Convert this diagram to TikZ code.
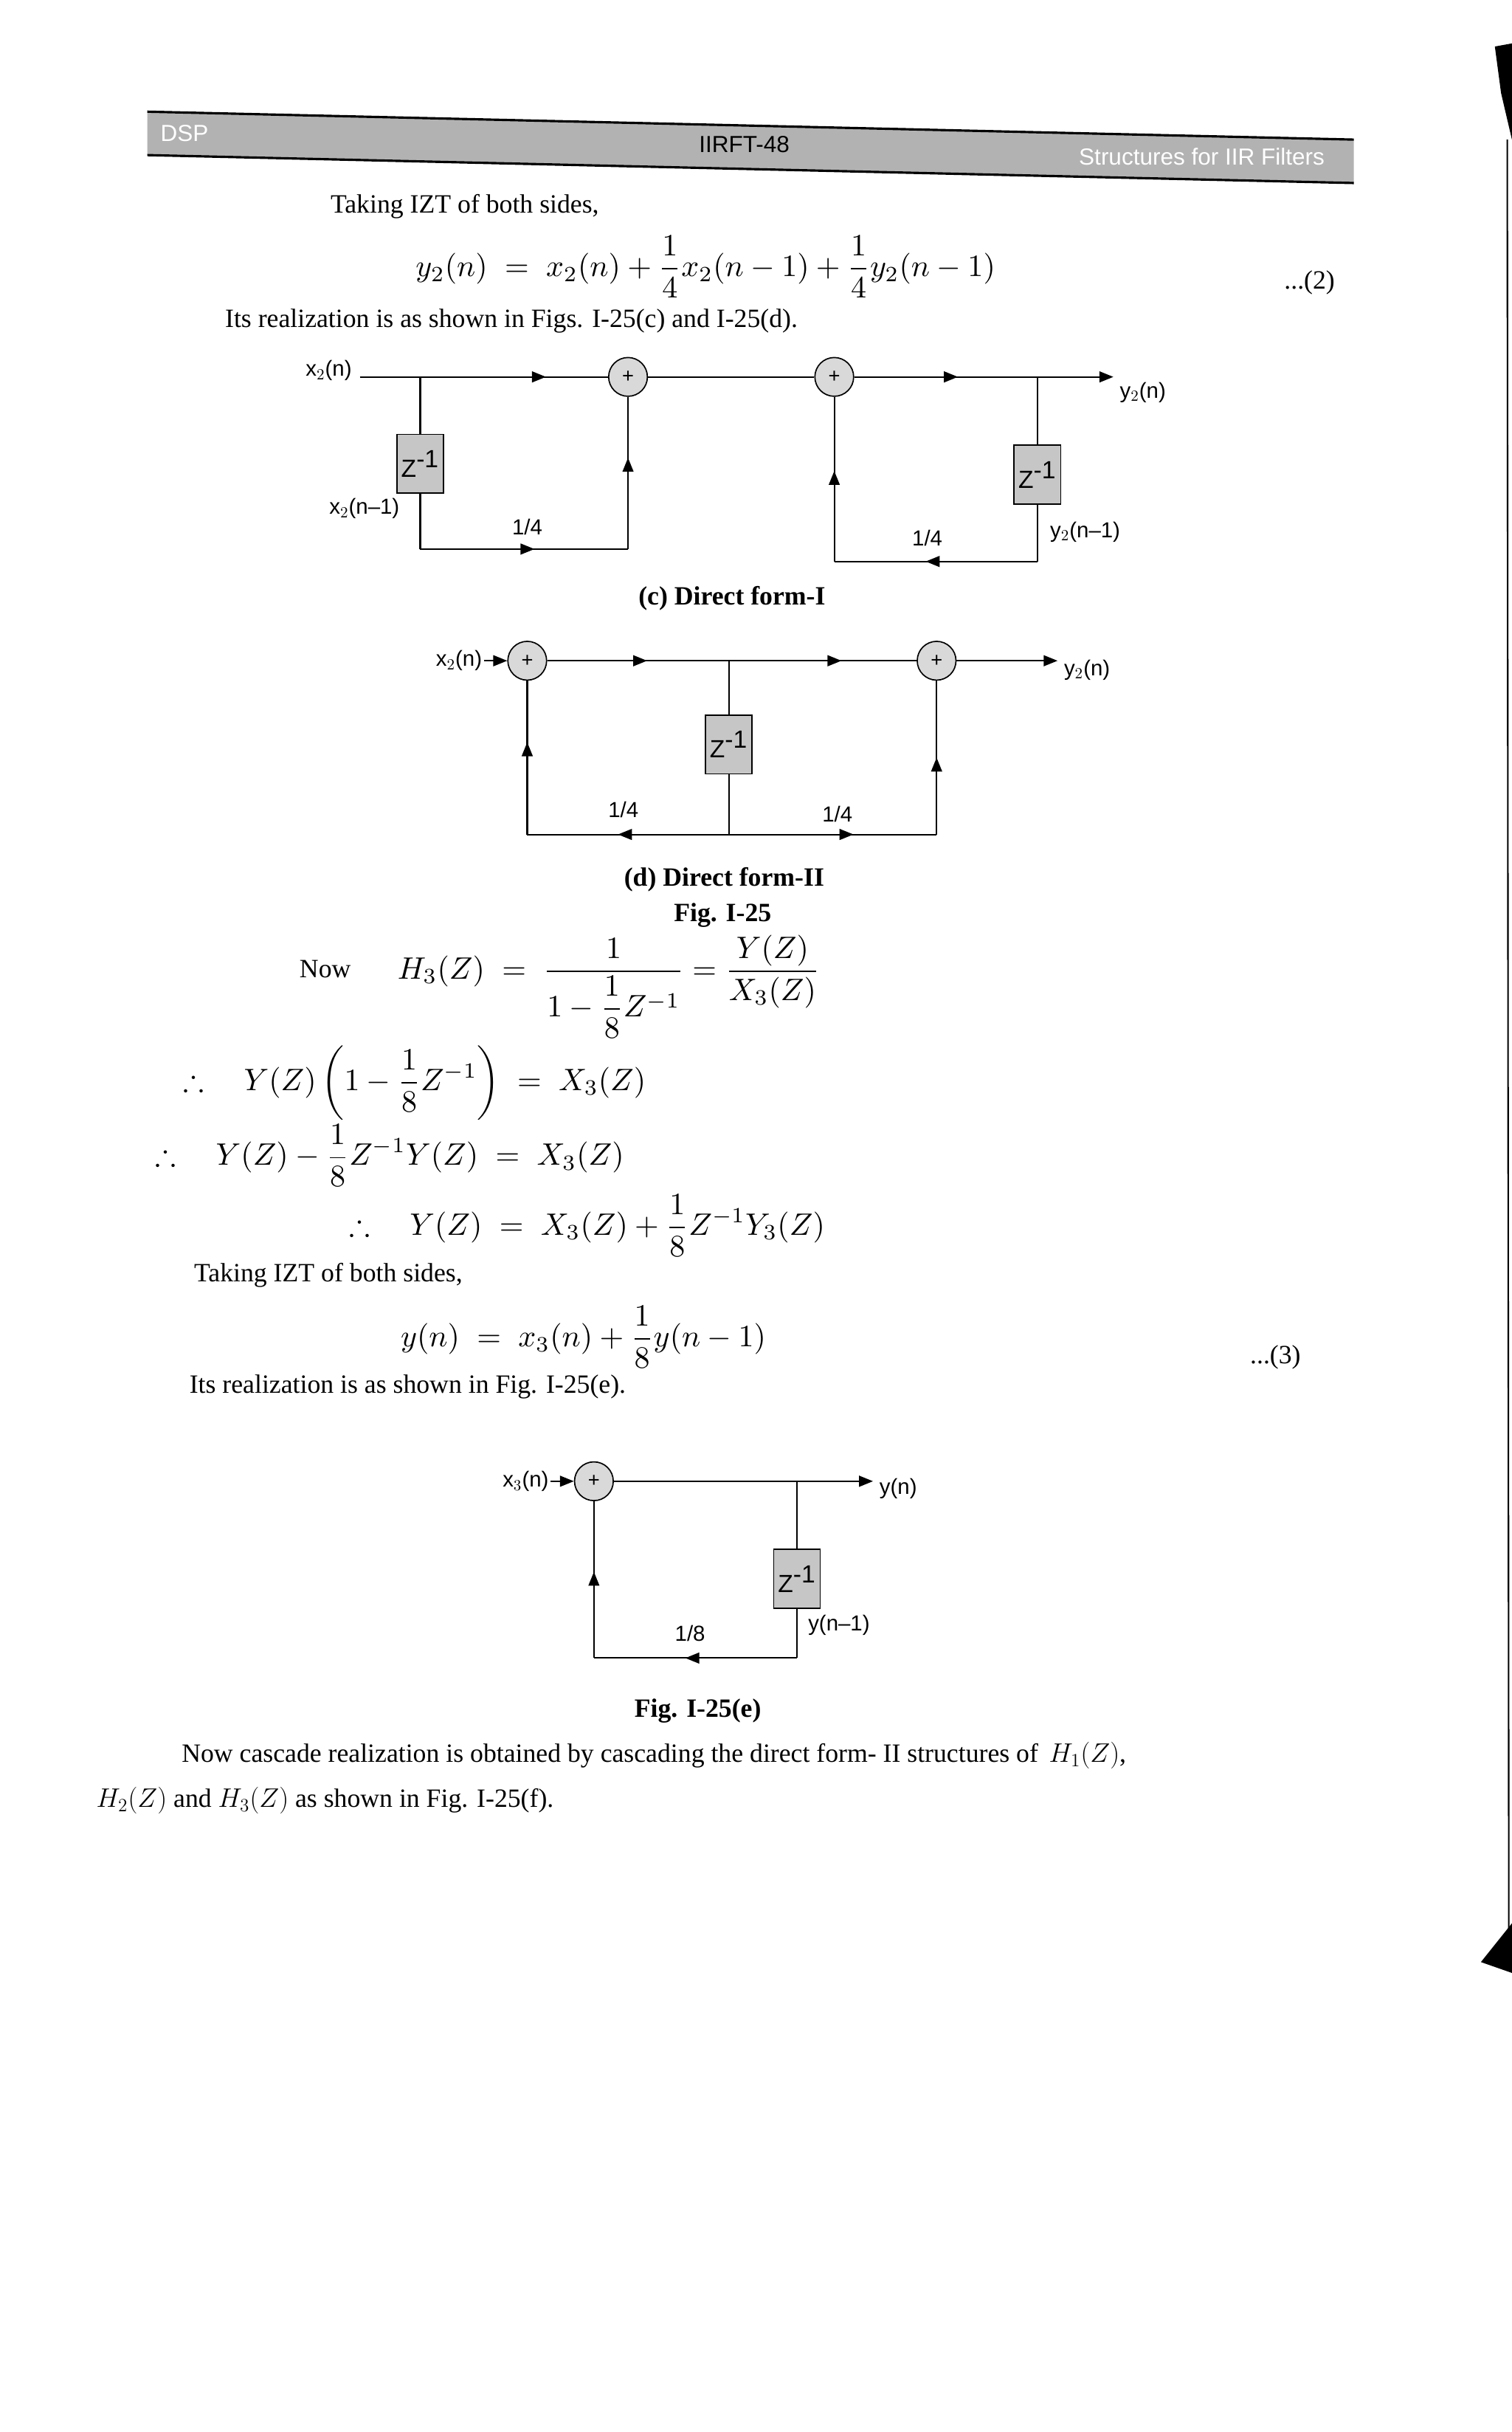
\documentclass[tikz,border=0pt]{standalone}
\usepackage{amssymb}
\usepackage{fontspec}
\setmainfont{Liberation Serif}
\newfontfamily\lsans{Liberation Sans}
\usetikzlibrary{decorations.markings,arrows.meta}
\begin{document}
\begin{tikzpicture}[x=1pt,y=-1pt,
  lab/.style={font=\lsans\fontsize{14}{16}\selectfont,inner sep=1pt},
  txt/.style={font=\fontsize{17}{20}\selectfont,anchor=west,inner sep=0pt},
  eqn/.style={font=\normalsize,anchor=west,inner sep=0pt,scale=2.0,transform shape},
  captxt/.style={font=\bfseries\fontsize{17}{20}\selectfont,inner sep=0pt},
  adder/.style={circle,draw,thick,fill=gray!30,minimum size=25pt,inner sep=0pt,font=\lsans\fontsize{13}{14}\selectfont},
  zbox/.style={draw,thick,fill=gray!45,minimum width=30pt,minimum height=38pt,inner sep=0pt,font=\lsans\fontsize{16}{18}\selectfont},
  wire/.style={line width=1pt},
  marr/.style={postaction={decorate},decoration={markings,mark=at position #1 with {\arrow{Triangle[length=9pt,width=7pt]}}}},
  tip/.style={-{Triangle[length=9pt,width=7pt]}}]
\useasboundingbox (0,0) rectangle (975,1568);
% header band
\fill[gray!60] (95,72) -- (873,90) -- (873,118) -- (95,100) -- cycle;
\draw[line width=1.5pt] (95,72) -- (873,90);
\draw[line width=1.5pt] (95,100) -- (873,118);
\node[font=\lsans\fontsize{15}{17}\selectfont] (hd) at (480,93) {IIRFT-48};
\node[font=\lsans\fontsize{15}{17}\selectfont,text=white,anchor=west] (hl) at (100,86) {DSP};
\node[font=\lsans\fontsize{15}{17}\selectfont,text=white] (hr) at (775,101) {Structures for IIR Filters};
\fill[black] (964,30) -- (975,28) -- (975,90) -- (968,60) -- cycle;
\draw[black,line width=1pt] (972,90) -- (973,1250);
\fill[black] (955,1265) -- (975,1240) -- (975,1272) -- cycle;
% text top
\node[txt] (t1) at (213,133) {Taking IZT of both sides,};
\node[eqn,anchor=center] (e2) at (455,172) {$\displaystyle y_2(n)\;=\;x_2(n)+\frac14x_2(n-1)+\frac14y_2(n-1)$};
\node[txt] (n2) at (828,182) {...(2)};
\node[txt] (t2) at (145,207) {Its realization is as shown in Figs. I-25(c) and I-25(d).};
% Fig c
\node[lab,anchor=east] (cx) at (228,239) {x$_2$(n)};
\node[adder] (ca1) at (405,243) {+};
\node[adder] (ca2) at (538,243) {+};
\coordinate (cy) at (718,252);
\node[lab,anchor=west] (cyl) at (721,253) {y$_2$(n)};
\coordinate (cin) at (232,243);
\coordinate (cb1) at (271,243);
\node[zbox] (cz1) at (271,299) {Z$^{\mbox{-1}}$};
\coordinate (cl1) at (271,354);
\coordinate (cl2) at (405,354);
\draw[wire,marr=0.75] (cin) -- (ca1);
\draw[wire] (ca1) -- (ca2);
\draw[wire,marr=0.4,tip] (ca2) -- (cy |- ca2) coordinate (cye);
\draw[wire] (cb1) -- (cz1) -- (cl1);
\draw[wire,marr=0.55] (cl1) -- (cl2);
\draw[wire,marr=0.6] (cl2) -- (ca1);
\coordinate (cb2) at (669,243);
\node[zbox] (cz2) at (669,306) {Z$^{\mbox{-1}}$};
\coordinate (cr1) at (669,362);
\coordinate (cr2) at (538,362);
\draw[wire] (cb2) -- (cz2) -- (cr1);
\draw[wire,marr=0.55] (cr1) -- (cr2);
\draw[wire,marr=0.55] (cr2) -- (ca2);
\node[lab] (c14a) at (340,340) {1/4};
\node[lab] (c14b) at (598,347) {1/4};
\node[lab] (cxn) at (235,328) {x$_2$(n–1)};
\node[lab,anchor=west] (cyn) at (676,343) {y$_2$(n–1)};
\node[captxt] (capc) at (472,386) {(c) Direct form-I};
% Fig d
\node[lab,anchor=east] (dx) at (312,426) {x$_2$(n)};
\node[adder] (da1) at (340,426) {+};
\node[adder] (da2) at (604,426) {+};
\node[lab,anchor=west] (dyl) at (685,432) {y$_2$(n)};
\draw[wire,tip] (dx) -- (da1);
\coordinate (db) at (470,426);
\draw[wire,marr=0.55] (da1) -- (db);
\draw[wire,marr=0.6] (db) -- (da2);
\draw[wire,tip] (da2) -- (682,426);
\node[zbox] (dz) at (470,480) {Z$^{\mbox{-1}}$};
\coordinate (dbl) at (340,538);
\coordinate (dbm) at (470,538);
\coordinate (dbr) at (604,538);
\draw[wire] (db) -- (dz) -- (dbm);
\draw[wire,marr=0.55] (dbm) -- (dbl);
\draw[wire,marr=0.6] (dbl) -- (da1);
\draw[wire,marr=0.6] (dbm) -- (dbr);
\draw[wire,marr=0.5] (dbr) -- (da2);
\node[lab] (d14a) at (402,522) {1/4};
\node[lab] (d14b) at (540,525) {1/4};
\node[captxt] (capd) at (467,567) {(d) Direct form-II};
\node[captxt] (capf) at (466,590) {Fig. I-25};
% equations
\node[txt] (now) at (193,625) {Now};
\node[eqn] (h3) at (256,636) {$\displaystyle H_3(Z)\;=\;\frac{1}{1-{\displaystyle\frac18}Z^{-1}}=\frac{Y(Z)}{X_3(Z)}$};
\node[eqn] (q1) at (118,697) {$\displaystyle \therefore\quad Y(Z)\left(1-\frac18Z^{-1}\vphantom{\int_0^1}\right)\;=\;X_3(Z)$};
\node[eqn] (q2) at (100,745) {$\displaystyle \therefore\quad Y(Z)-\frac18Z^{-1}Y(Z)\;=\;X_3(Z)$};
\node[eqn] (q3) at (225,790) {$\displaystyle \therefore\quad Y(Z)\;=\;X_3(Z)+\frac18Z^{-1}Y_3(Z)$};
\node[txt] (t3) at (125,822) {Taking IZT of both sides,};
\node[eqn] (e3) at (258,862) {$\displaystyle y(n)\;=\;x_3(n)+\frac18y(n-1)$};
\node[txt] (n3) at (806,875) {...(3)};
\node[txt] (t4) at (122,894) {Its realization is as shown in Fig. I-25(e).};
% Fig e
\node[lab,anchor=east] (ex) at (355,955) {x$_3$(n)};
\node[adder] (ea) at (383,955) {+};
\node[lab,anchor=west] (eyl) at (566,960) {y(n)};
\draw[wire,tip] (ex) -- (ea);
\coordinate (eb) at (514,955);
\draw[wire] (ea) -- (eb);
\draw[wire,tip] (eb) -- (563,955);
\node[zbox] (ez) at (514,1018) {Z$^{\mbox{-1}}$};
\coordinate (el1) at (514,1069);
\coordinate (el2) at (383,1069);
\draw[wire] (eb) -- (ez) -- (el1);
\draw[wire,marr=0.55] (el1) -- (el2);
\draw[wire,marr=0.55] (el2) -- (ea);
\node[lab] (e18) at (445,1053) {1/8};
\node[lab,anchor=west] (eyn) at (520,1048) {y(n–1)};
\node[captxt] (cape) at (450,1103) {Fig. I-25(e)};
\node[txt] (p1) at (117,1132) {Now cascade realization is obtained by cascading the direct form- II structures of \,$H_1(Z)$,};
\node[txt] (p2) at (62,1161) {$H_2(Z)$ and $H_3(Z)$ as shown in Fig. I-25(f).};
\end{tikzpicture}
\end{document}
